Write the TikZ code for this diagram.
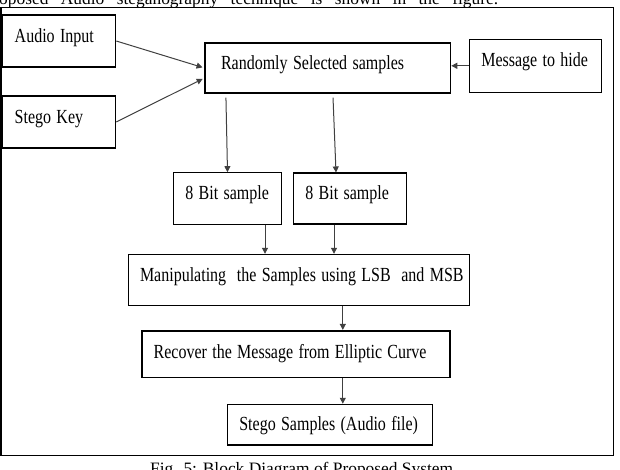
\documentclass[tikz,border=0pt]{standalone}
\usepackage{fontspec}
\setmainfont{Liberation Serif}
\usetikzlibrary{arrows.meta, positioning, calc}

% tall, narrow lettering of the block labels
\newcommand{\stretchtxt}[1]{\scalebox{1}[1.25]{#1}}

\tikzset{
  blk/.style={draw, rectangle, line width=1.1pt, inner xsep=12pt, inner ysep=0pt,
    align=left, font=\fontsize{16}{18}\selectfont,
    text height=8pt, text depth=5pt},
  wire/.style={black!75, line width=1pt}
}

\begin{document}
\begin{tikzpicture}[%
    x=1pt, y=-1pt,      % pixel grid, y runs downwards
    >={Triangle[length=6pt, width=6pt]}, % filled arrow heads
    line join=miter
]
    \useasboundingbox (0,0) rectangle (620,470);
    \clip (0,0) rectangle (620,470);

    % ==========================================
    % 1. Page text and frame
    % ==========================================
    \node[anchor=base west, inner sep=0pt, font=\fontsize{17.4}{20}\selectfont] (txt) at (-1,4.5)
        {\makebox[499pt][s]{oposed Audio steganography technique is shown in the figure.}};
    \node[anchor=base, inner sep=0pt, font=\fontsize{17.4}{20}\selectfont] (cap) at (301.7,474)
        {Fig. 5: Block Diagram of Proposed System};
    \draw[line width=1.3pt] (1,7.5) rectangle (613.7,455.7);

    % ==========================================
    % 2. Blocks
    % ==========================================
    \node[blk, minimum width=113pt, minimum height=52pt, text width=89pt] (aud) at (59.2,41) {\stretchtxt{Audio Input}};
    \node[blk, minimum width=113pt, minimum height=52pt, text width=89pt] (key) at (59.2,122) {\stretchtxt{Stego Key}};
    \node[blk, inner xsep=16pt, minimum width=245.7pt, minimum height=50pt, text width=213.7pt] (rand) at (327.85,68) {\stretchtxt{Randomly Selected samples}};
    \node[blk, minimum width=132.4pt, minimum height=53pt, text width=108.4pt, text height=7pt, text depth=5.6pt] (msg) at (535.5,65.8) {\stretchtxt{Message to hide}};

    \node[blk, minimum width=108.4pt, minimum height=51.3pt, text width=84.4pt] (bit1) at (227.5,198.4) {\stretchtxt{8 Bit sample}};
    \node[blk, minimum width=113.4pt, minimum height=51pt, text width=89.4pt] (bit2) at (350,198.5) {\stretchtxt{8 Bit sample}};

    \node[blk, inner xsep=11.7pt, minimum width=341pt, minimum height=50.7pt, text width=317.6pt] (manip) at (298.8,279.7) {\stretchtxt{Manipulating~ the Samples using LSB~ and MSB}};
    \node[blk, line width=1.6pt, minimum width=308.3pt, minimum height=46.6pt, text width=284.3pt, text height=10pt, text depth=1.6pt] (rec) at (295.85,354) {\stretchtxt{Recover the Message from Elliptic Curve}};
    \node[blk, minimum width=205pt, minimum height=40.7pt, text width=181pt, text height=12pt, text depth=0.4pt] (out) at (329.8,424.65) {\stretchtxt{Stego Samples (Audio file)}};

    % ==========================================
    % 3. Connectors
    % ==========================================
    \coordinate (r1) at ([xshift=-102pt]rand.south);
    \coordinate (r2) at ([xshift=5pt]rand.south);
    \coordinate (b1) at ([xshift=37.5pt]bit1.south);
    \coordinate (b2) at ([xshift=-16pt]bit2.south);
    \coordinate (m1) at ([xshift=44pt]manip.south);
    \coordinate (m2) at (m1 |- rec.south);

    \path[->, wire]
        % inputs into the sample selection
        (aud.east) edge[shorten >=2pt] (rand.west)
        (key.east) edge[shorten >=2pt] ([yshift=-10pt]rand.west)
        (msg.west) edge (msg.west -| rand.east)
        % split into two 8 bit samples
        (r1) edge[shorten <=4pt] (bit1.north)
        (r2) edge[shorten <=4pt] ([xshift=-14pt]bit2.north);

    % down to the output
    \draw[->, wire] (b1) -- (b1 |- manip.north);
    \draw[->, wire] (b2) -- (b2 |- manip.north);
    \draw[->, wire] (m1) -- (m1 |- rec.north);
    \draw[->, wire] (m2) -- (m2 |- out.north);

\end{tikzpicture}
\end{document}
